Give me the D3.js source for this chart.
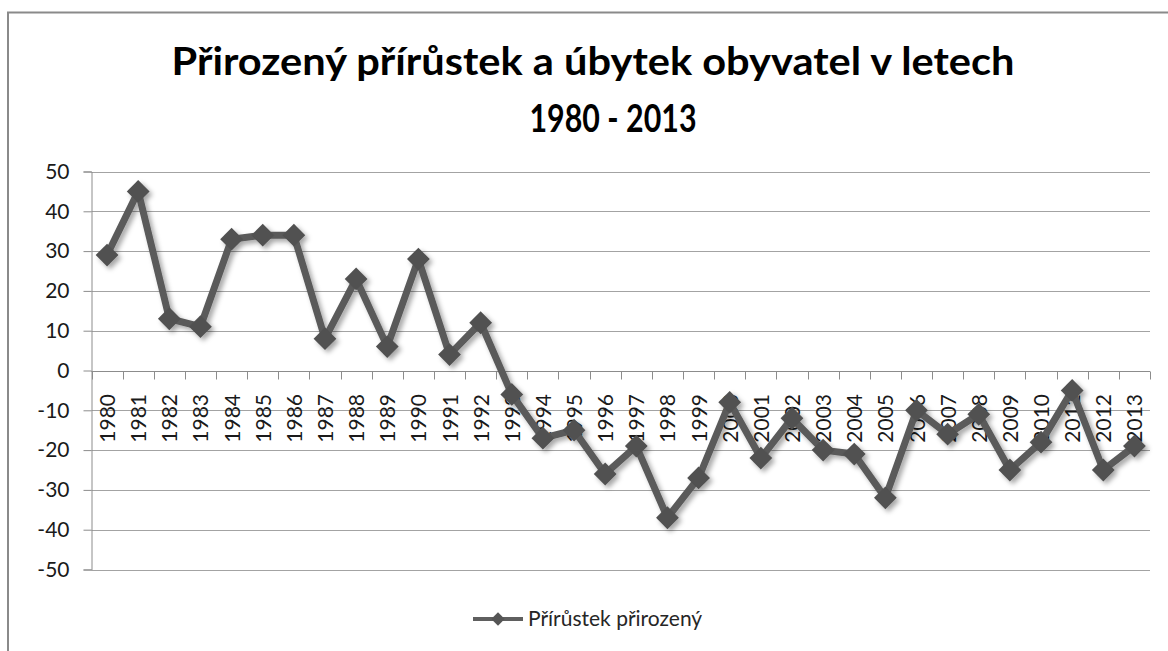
<!DOCTYPE html>
<html>
<head>
<meta charset="utf-8">
<script src="https://cdn.jsdelivr.net/npm/d3@7"></script>
<style>
  body { margin: 0; background: #fff; }
  text { font-family: Lato, "Open Sans", sans-serif; }
</style>
</head>
<body>
<script>
// data
var years = ["1980","1981","1982","1983","1984","1985","1986","1987","1988","1989",
             "1990","1991","1992","1993","1994","1995","1996","1997","1998","1999",
             "2000","2001","2002","2003","2004","2005","2006","2007","2008","2009",
             "2010","2011","2012","2013"];
var values = [29, 45, 13, 11, 33, 34, 34, 8, 23, 6,
              28, 4, 12, -6, -17, -15, -26, -19, -37, -27,
              -8, -22, -12, -20, -21, -32, -10, -16, -11, -25,
              -18, -5, -25, -19];
var yTicks = [50, 40, 30, 20, 10, 0, -10, -20, -30, -40, -50];
var titleLines = ["Přirozený přírůstek a úbytek obyvatel v letech", "1980 - 2013"];
var seriesName = "Přírůstek přirozený";

function drawChart() {

    var width = 1168,
        height = 651,
        plotLeft = 91.5,
        plotRight = 1150,
        plotTop = 171.5,
        plotBottom = 569.5;

    var svg = d3.select("body").append("svg")
        .attr("width", width)
        .attr("height", height);

    // shadow for line + markers
    var defs = svg.append("defs");
    defs.append("filter")
        .attr("id", "shadow")
        .attr("x", "-10%").attr("y", "-10%")
        .attr("width", "120%").attr("height", "120%")
        .append("feDropShadow")
        .attr("dx", 3).attr("dy", 3)
        .attr("stdDeviation", 2.5)
        .attr("flood-color", "#000")
        .attr("flood-opacity", 0.35);

    // chart frame
    svg.append("path")
        .attr("d", "M8,651 L8,12.5 L1170,12.5")
        .attr("fill", "none")
        .attr("stroke", "#8a8a8a")
        .attr("stroke-width", 2);

    // title
    var title = svg.append("g");
    title.append("text")
        .attr("x", 593).attr("y", 75)
        .attr("text-anchor", "middle")
        .attr("font-size", 39)
        .attr("font-weight", "bold")
        .attr("textLength", 843)
        .attr("lengthAdjust", "spacingAndGlyphs")
        .attr("fill", "#000")
        .text(titleLines[0]);
    title.append("text")
        .attr("x", 613).attr("y", 132)
        .attr("text-anchor", "middle")
        .attr("font-size", 39)
        .attr("font-weight", "bold")
        .attr("textLength", 167)
        .attr("lengthAdjust", "spacingAndGlyphs")
        .attr("fill", "#000")
        .text(titleLines[1]);

    var x = d3.scaleBand()
        .domain(years)
        .range([plotLeft, plotRight]);

    var y = d3.scaleLinear()
        .domain([-50, 50])
        .range([plotBottom, plotTop]);

    // gridlines
    svg.append("g")
        .selectAll("line")
        .data(yTicks)
        .enter()
        .append("line")
        .attr("x1", plotLeft).attr("x2", plotRight)
        .attr("y1", function (d) { return Math.round(y(d)) + 0.5; })
        .attr("y2", function (d) { return Math.round(y(d)) + 0.5; })
        .attr("stroke", "#a3a3a3")
        .attr("stroke-width", 1.2);

    // y axis (plain hyphen for negatives, like the original)
    var yAxis = svg.append("g")
        .attr("transform", "translate(" + plotLeft + ",0)")
        .call(d3.axisLeft(y)
            .tickValues(yTicks)
            .tickFormat(function (d) { return String(d); })
            .tickSize(8)
            .tickPadding(14));
    yAxis.select(".domain").attr("stroke", "#8c8c8c");
    yAxis.selectAll(".tick line").attr("stroke", "#8c8c8c");
    yAxis.selectAll(".tick text")
        .attr("font-size", 21)
        .attr("fill", "#1a1a1a")
        .attr("font-family", "Lato, 'Open Sans', sans-serif");

    // x axis at zero, ticks on category boundaries
    var xg = svg.append("g")
        .attr("transform", "translate(0," + (Math.round(y(0)) + 0.5) + ")");
    xg.append("line")
        .attr("x1", plotLeft).attr("x2", plotRight)
        .attr("stroke", "#8c8c8c");
    xg.selectAll(".xtick")
        .data(years.concat(["end"]))
        .enter()
        .append("line")
        .attr("class", "xtick")
        .attr("x1", function (d, i) { return Math.round(plotLeft + i * x.step()) + 0.5; })
        .attr("x2", function (d, i) { return Math.round(plotLeft + i * x.step()) + 0.5; })
        .attr("y1", 0).attr("y2", 8)
        .attr("stroke", "#8c8c8c");

    // x labels (rotated)
    svg.append("g")
        .selectAll("text")
        .data(years)
        .enter()
        .append("text")
        .attr("transform", function (d) {
            return "translate(" + (x(d) + x.bandwidth() / 2 + 8) + "," + 394 + ")rotate(-90)";
        })
        .attr("text-anchor", "end")
        .attr("font-size", 21)
        .attr("fill", "#1a1a1a")
        .text(function (d) { return d; });

    // series
    var pts = years.map(function (d, i) { return { year: d, value: values[i] }; });

    var line = d3.line()
        .x(function (d) { return x(d.year) + x.bandwidth() / 2; })
        .y(function (d) { return y(d.value); });

    var series = svg.append("g").attr("filter", "url(#shadow)");
    series.append("path")
        .datum(pts)
        .attr("d", line)
        .attr("fill", "none")
        .attr("stroke", "#5a5a5a")
        .attr("stroke-width", 7)
        .attr("stroke-linejoin", "round");

    var diamond = d3.symbol().type(d3.symbolSquare).size(260);
    series.selectAll(".marker")
        .data(pts)
        .enter()
        .append("path")
        .attr("class", "marker")
        .attr("transform", function (d) {
            return "translate(" + (x(d.year) + x.bandwidth() / 2) + "," + y(d.value) + ")rotate(45)";
        })
        .attr("d", diamond)
        .attr("fill", "#515151");

    // legend
    var legend = svg.append("g").attr("transform", "translate(473,619)");
    legend.append("line")
        .attr("x1", 0).attr("x2", 50)
        .attr("stroke", "#5f5f5f")
        .attr("stroke-width", 4);
    legend.append("path")
        .attr("transform", "translate(25,0)rotate(45)")
        .attr("d", d3.symbol().type(d3.symbolSquare).size(90))
        .attr("fill", "#555");
    legend.append("text")
        .attr("x", 55).attr("y", 0)
        .attr("dy", "0.35em")
        .attr("font-size", 21)
        .attr("fill", "#262626")
        .text(seriesName);
}

drawChart();
</script>
</body>
</html>
